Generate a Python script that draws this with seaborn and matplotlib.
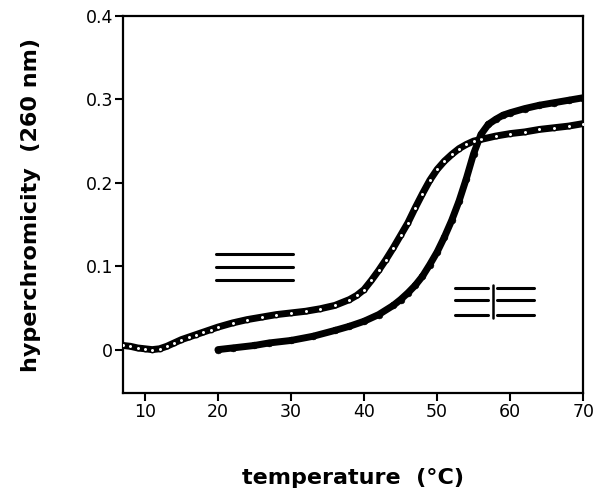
import matplotlib
matplotlib.use("Agg")
import matplotlib.pyplot as plt
import seaborn as sns
import pandas as pd

# Duplex (open circles) melting curve
duplex_temp = [7, 8, 9, 10, 11, 12, 13, 14, 15, 16, 17, 18, 19, 20, 22, 24, 26, 28, 30,
               32, 34, 36, 38, 39, 40, 41, 42, 43, 44, 45, 46, 47, 48, 49, 50, 51, 52,
               53, 54, 55, 56, 58, 60, 62, 64, 66, 68, 70]
duplex_hyper = [0.005, 0.004, 0.002, 0.001, 0.0, 0.001, 0.004, 0.008, 0.012, 0.015, 0.018,
                0.021, 0.024, 0.027, 0.032, 0.036, 0.039, 0.042, 0.044, 0.046, 0.049, 0.053,
                0.060, 0.065, 0.072, 0.083, 0.095, 0.108, 0.122, 0.137, 0.152, 0.170, 0.187,
                0.203, 0.216, 0.226, 0.234, 0.241, 0.246, 0.250, 0.252, 0.256, 0.259, 0.261,
                0.264, 0.266, 0.268, 0.271]

# Hairpin/complex (filled circles) melting curve
hairpin_temp = [20, 22, 25, 27, 30, 33, 36, 38, 40, 42, 44, 45, 46, 47, 48, 49, 50, 51, 52,
                53, 54, 55, 56, 57, 58, 59, 60, 62, 64, 66, 68, 70]
hairpin_hyper = [0.0, 0.002, 0.005, 0.008, 0.011, 0.016, 0.023, 0.028, 0.034, 0.042, 0.053,
                 0.060, 0.068, 0.077, 0.088, 0.102, 0.117, 0.135, 0.155, 0.178, 0.205, 0.235,
                 0.258, 0.270, 0.276, 0.281, 0.284, 0.289, 0.293, 0.296, 0.299, 0.302]

x_ticks = [10, 20, 30, 40, 50, 60, 70]
y_ticks = [0, 0.1, 0.2, 0.3, 0.4]
y_tick_labels = ["0", "0.1", "0.2", "0.3", "0.4"]

sns.set_style("ticks")
plt.rcParams['font.family'] = ['DejaVu Sans']
plt.rcParams['text.color'] = 'black'
plt.rcParams['axes.labelcolor'] = 'black'
plt.rcParams['xtick.color'] = 'black'
plt.rcParams['ytick.color'] = 'black'
plt.rcParams['axes.edgecolor'] = 'black'

df1 = pd.DataFrame({"t": duplex_temp, "h": duplex_hyper})
df2 = pd.DataFrame({"t": hairpin_temp, "h": hairpin_hyper})

fig = plt.figure(figsize=(6, 5), dpi=100)
ax = fig.add_axes([0.205, 0.214, 0.767, 0.754])

sns.lineplot(data=df1, x="t", y="h", ax=ax, color="black", lw=5, solid_capstyle="round")
sns.lineplot(data=df2, x="t", y="h", ax=ax, color="black", lw=5, solid_capstyle="round")
sns.scatterplot(data=df1, x="t", y="h", ax=ax, marker="o", s=10, facecolor="white",
                edgecolor="black", linewidth=1.0, zorder=3)
sns.scatterplot(data=df2, x="t", y="h", ax=ax, marker="o", s=24, color="black",
                edgecolor="black", zorder=3)

# schematic symbols: duplex (three parallel strands)
for yy in [0.115, 0.099, 0.084]:
    ax.plot([19.7, 30.3], [yy, yy], color="black", lw=2.2)
# complex symbol
for yy in [0.074, 0.060, 0.042]:
    ax.plot([52.5, 57.0], [yy, yy], color="black", lw=2.2)
    ax.plot([58.2, 63.2], [yy, yy], color="black", lw=2.2)
ax.plot([57.6, 57.6], [0.038, 0.077], color="black", lw=1.8)

ax.set_xlim(7, 70)
ax.set_ylim(-0.052, 0.4)
ax.set_xticks(x_ticks)
ax.set_yticks(y_ticks)
ax.set_yticklabels(y_tick_labels)
ax.tick_params(direction="out", length=5.5, width=1.5, pad=1.5, labelsize=12.5,
               colors="black")
for s in ax.spines.values():
    s.set_linewidth(1.6)
    s.set_visible(True)
    s.set_color("black")

ax.set_xlabel("temperature  (°C)", fontsize=16, fontweight="bold", labelpad=34)
ax.set_ylabel("hyperchromicity  (260 nm)", fontsize=16, fontweight="bold", labelpad=32)

fig.savefig("out.png", dpi=100)
